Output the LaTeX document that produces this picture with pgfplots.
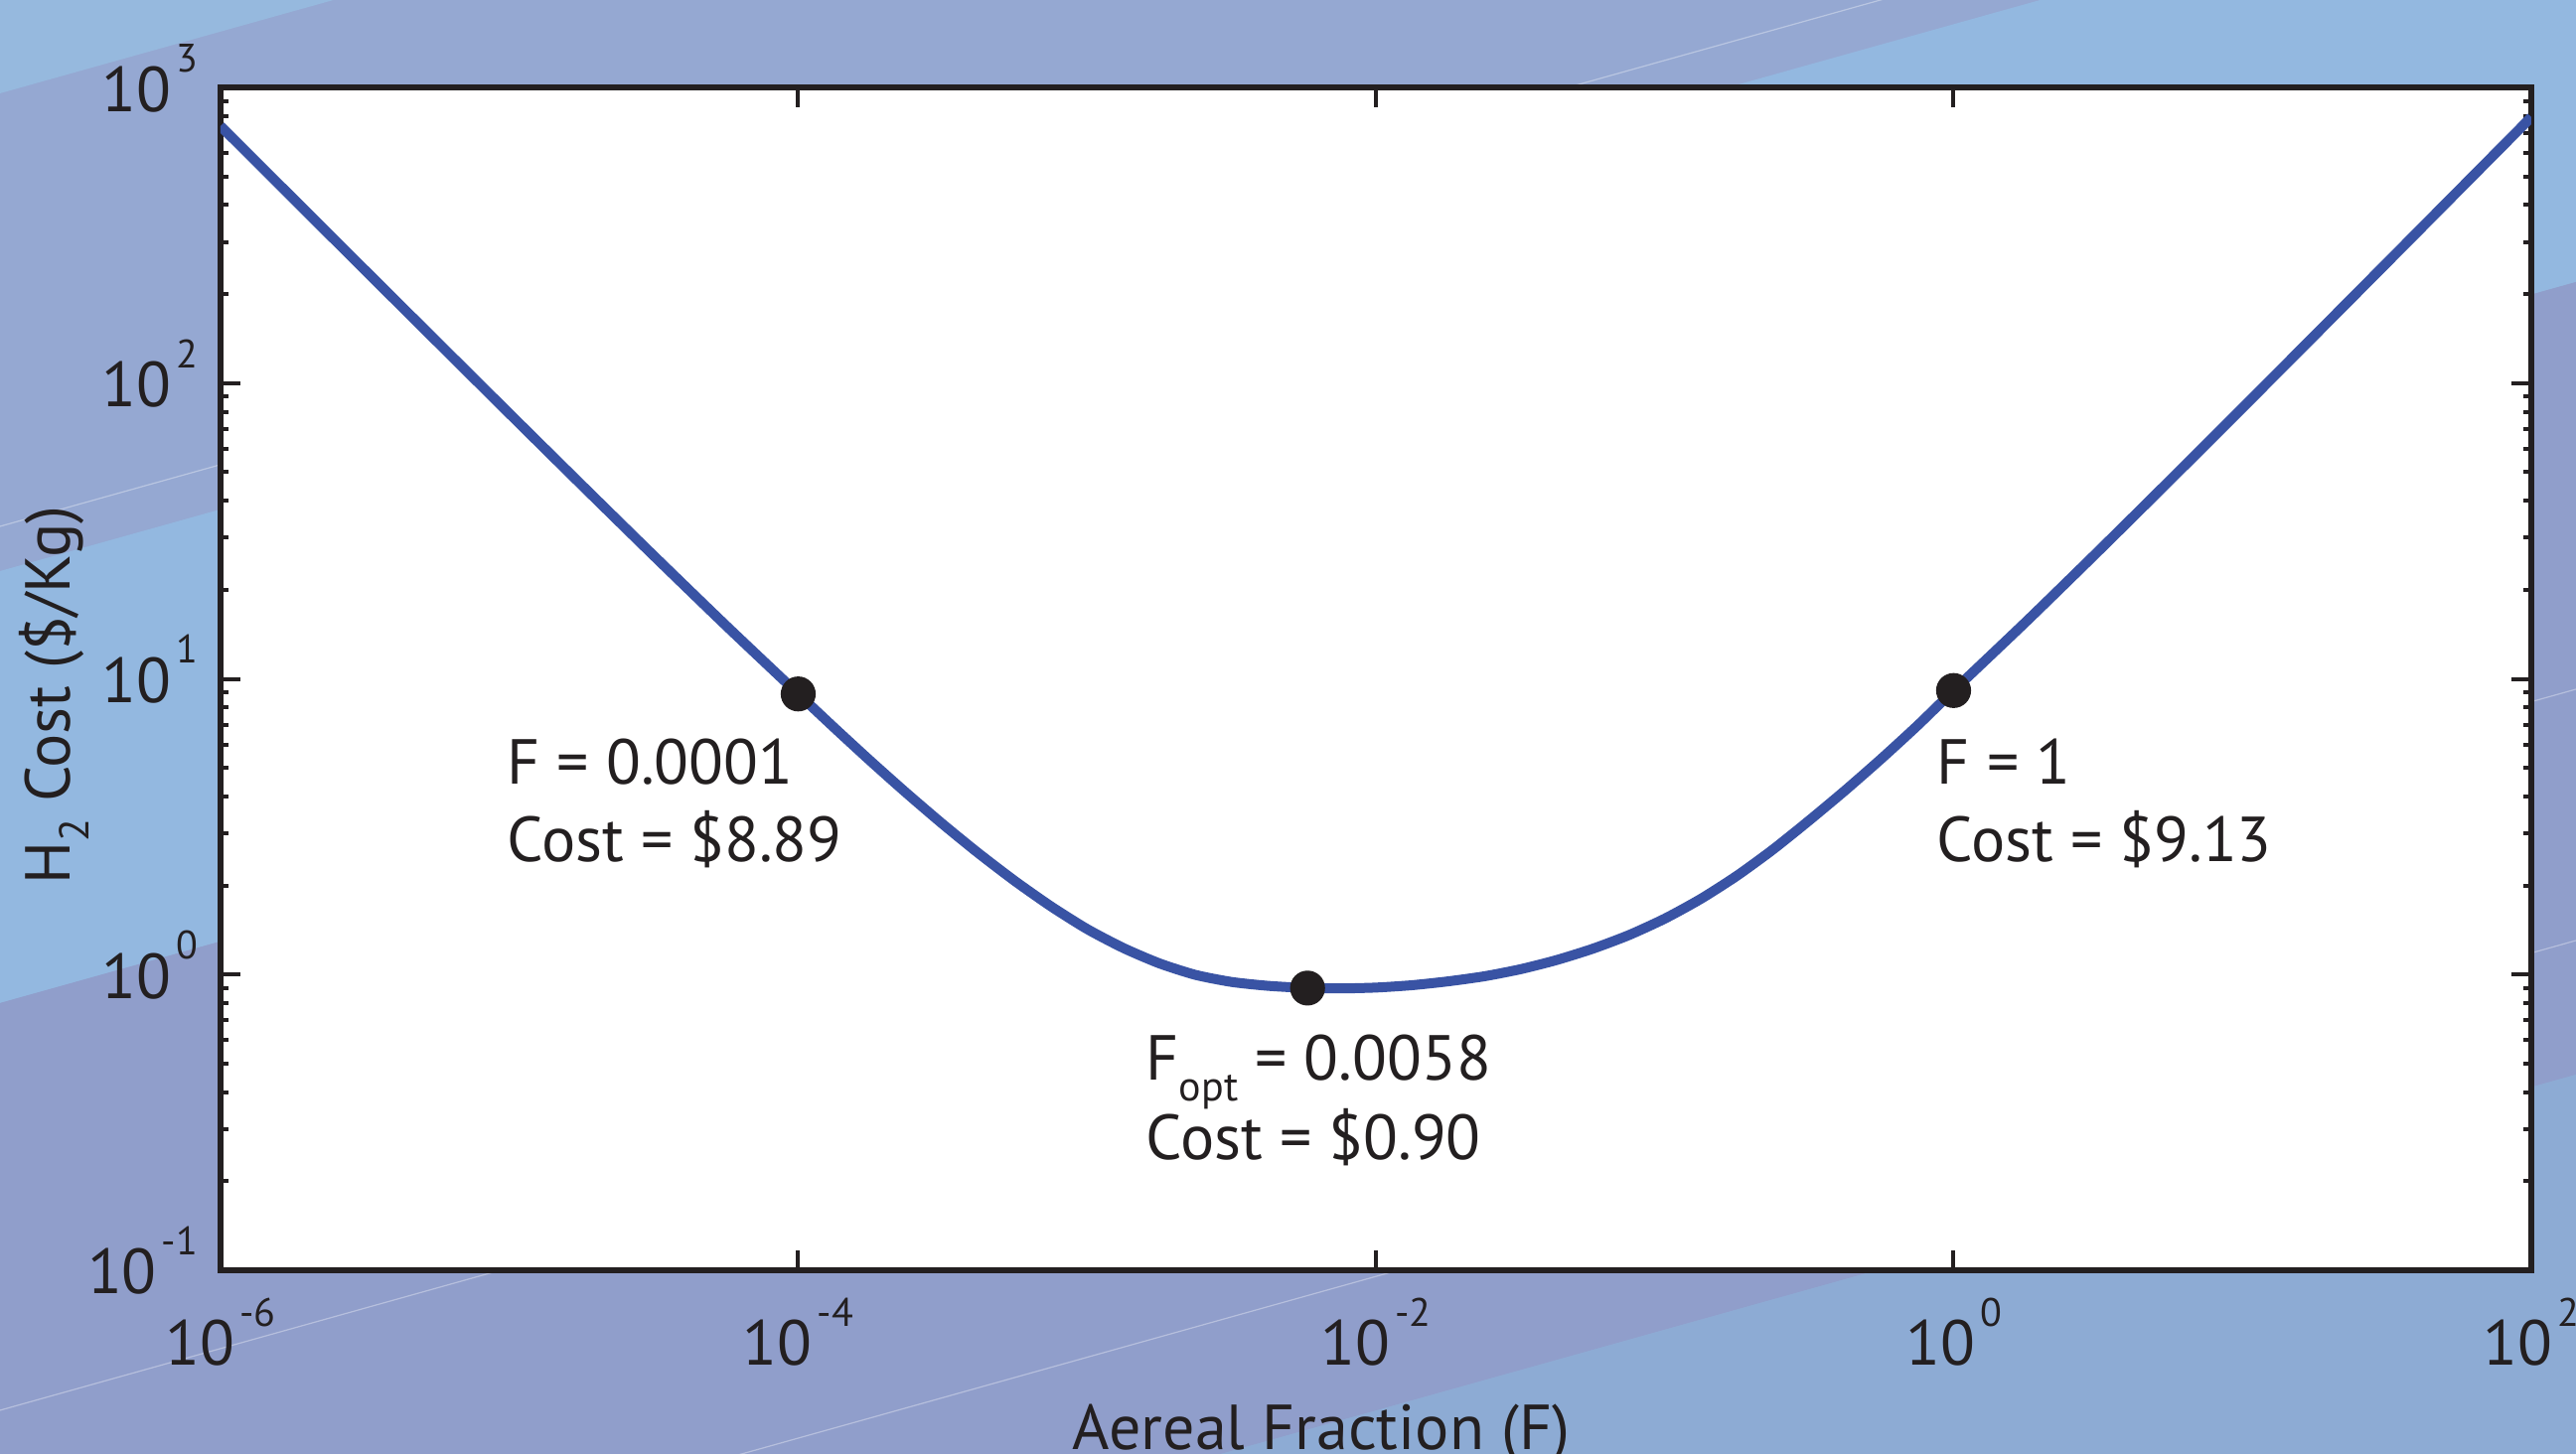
\documentclass[border=0pt]{standalone}
\usepackage{fontspec}
\setmainfont{PT Sans}
\usepackage{pgfplots}
\pgfplotsset{compat=1.18}
\definecolor{curveblue}{HTML}{3953A4}
\definecolor{ink}{HTML}{231F20}
\definecolor{bgA}{HTML}{96B9DE}
\definecolor{bgP1}{HTML}{95A8D2}
\definecolor{bgB}{HTML}{93B8E0}
\definecolor{bgP2}{HTML}{909ECB}
\definecolor{bgC}{HTML}{8DABD4}
\newcommand{\tl}[1]{\mbox{10\hspace{0.08em}\raisebox{0.62em}{\fontsize{10pt}{10pt}\selectfont #1}}}
\newcommand{\mainfont}{\fontsize{16pt}{19pt}\selectfont}
\begin{document}
\begin{tikzpicture}[font=\mainfont]
\begin{scope}
 \clip (-55.5pt,-46.25pt) rectangle (592.75pt,319.75pt);
 \begin{scope}[shift={(-55.5pt,319.75pt)}, x=0.25pt, y=-0.25pt]
   \fill[bgP1] (0,0) rectangle (2593,1464);
   \fill[bgA] (0,0) -- (0,94) -- (335.7,0) -- cycle;
   \fill[bgB] (0,575) -- (0,1010) -- (2593,284) -- (2593,-151) -- cycle;
   \fill[bgP2] (0,1010) -- (0,1808) -- (2593,1082) -- (2593,284) -- cycle;
   \fill[bgC] (0,1808) -- (0,3000) -- (2593,3000) -- (2593,1082) -- cycle;
   \draw[white, opacity=0.35, line width=0.3pt] (0,530) -- (2593,-196);
   \draw[white, opacity=0.35, line width=0.3pt] (0,1420) -- (2593,694);
   \draw[white, opacity=0.35, line width=0.3pt] (0,1673) -- (2593,947);
 \end{scope}
\end{scope}
\begin{axis}[
  at={(0,0)}, anchor=south west,
  scale only axis, width=581.5pt, height=297.75pt,
  xmode=log, ymode=log,
  xmin=1e-6, xmax=1e2, ymin=1e-1, ymax=1e3,
  xtick={1e-6,1e-4,1e-2,1,1e2},
  xticklabels={\tl{-6},\tl{-4},\tl{-2},\tl{0},\tl{2}},
  ytick={1e-1,1,10,100,1000},
  yticklabels={\tl{-1},\tl{0},\tl{1},\tl{2},\tl{3}},
  xminorticks=false,
  tick align=inside,
  major tick length=5pt, minor tick length=2pt,
  tick style={line width=1pt, color=ink},
  axis line style={line width=1.4pt, color=ink},
  axis background/.style={fill=white},
  tick label style={font=\mainfont, text=ink},
  xticklabel style={anchor=base, inner sep=0pt, yshift=-24pt},
  yticklabel style={anchor=base east, inner sep=0pt, xshift=-5.5pt, yshift=-6pt},
  label style={font=\mainfont, text=ink},
  xlabel={Aereal Fraction (F)},
  xlabel style={at={(axis description cs:0.4763,0)}, anchor=base, yshift=-45.25pt},
  ylabel={H\raisebox{-0.3em}{\fontsize{10.5pt}{10.5pt}\selectfont 2} Cost (\$/Kg)},
  ylabel style={at={(axis description cs:-0.0653,0.486)}, anchor=base},
]
\addplot[color=curveblue, line width=2.5pt, smooth, tension=0.4] coordinates {
(1e-6,740.2) (1.778e-6,422.5) (3.162e-6,241.2) (5.623e-6,137.9)
(1e-5,78.9) (1.778e-5,45.27) (3.162e-5,26.08) (5.623e-5,15.14)
(1e-4,8.897) (1.334e-4,6.830) (1.778e-4,5.277) (2.371e-4,4.108)
(3.162e-4,3.229) (4.217e-4,2.568) (5.623e-4,2.072) (7.499e-4,1.701)
(1e-3,1.4255) (1.334e-3,1.2303) (1.778e-3,1.0914) (2.371e-3,0.9977)
(3.162e-3,0.9441) (4.217e-3,0.9162) (5.623e-3,0.9016) (7.499e-3,0.8974)
(1e-2,0.9036) (1.334e-2,0.9204) (1.778e-2,0.9484) (2.371e-2,0.9863)
(3.162e-2,1.042) (4.217e-2,1.119) (5.623e-2,1.2218) (7.499e-2,1.3583)
(0.1,1.5453) (0.1334,1.8030) (0.1778,2.1577) (0.2371,2.6485)
(0.3162,3.319) (0.4217,4.198) (0.5623,5.370) (0.7499,6.950)
(1,9.130) (1.778,15.57) (3.162,26.95) (5.623,47.02)
(10,82.43) (17.78,144.9) (31.62,255.2) (56.23,449.8) (100,793.2)
};
\addplot[only marks, mark=*, mark size=4.2pt, color=ink] coordinates {
(1e-4,8.89) (0.0058,0.90) (1,9.13)
};
\node[anchor=base west, text=ink, inner sep=0pt] at (rel axis cs:0.1238,0.4114) {F = 0.0001};
\node[anchor=base west, text=ink, inner sep=0pt] at (rel axis cs:0.1238,0.3451) {Cost = \$8.89};
\node[anchor=base west, text=ink, inner sep=0pt] at (rel axis cs:0.4003,0.1612) {F\raisebox{-0.33em}{\fontsize{10.5pt}{10.5pt}\selectfont opt} = 0.0058};
\node[anchor=base west, text=ink, inner sep=0pt] at (rel axis cs:0.4003,0.0940) {Cost = \$0.90};
\node[anchor=base west, text=ink, inner sep=0pt] at (rel axis cs:0.7425,0.4114) {F = 1};
\node[anchor=base west, text=ink, inner sep=0pt] at (rel axis cs:0.7425,0.3451) {Cost = \$9.13};
\end{axis}
\pgfresetboundingbox
\path[use as bounding box] (-55.5pt,-46.25pt) rectangle (592.75pt,319.75pt);
\end{tikzpicture}
\end{document}
